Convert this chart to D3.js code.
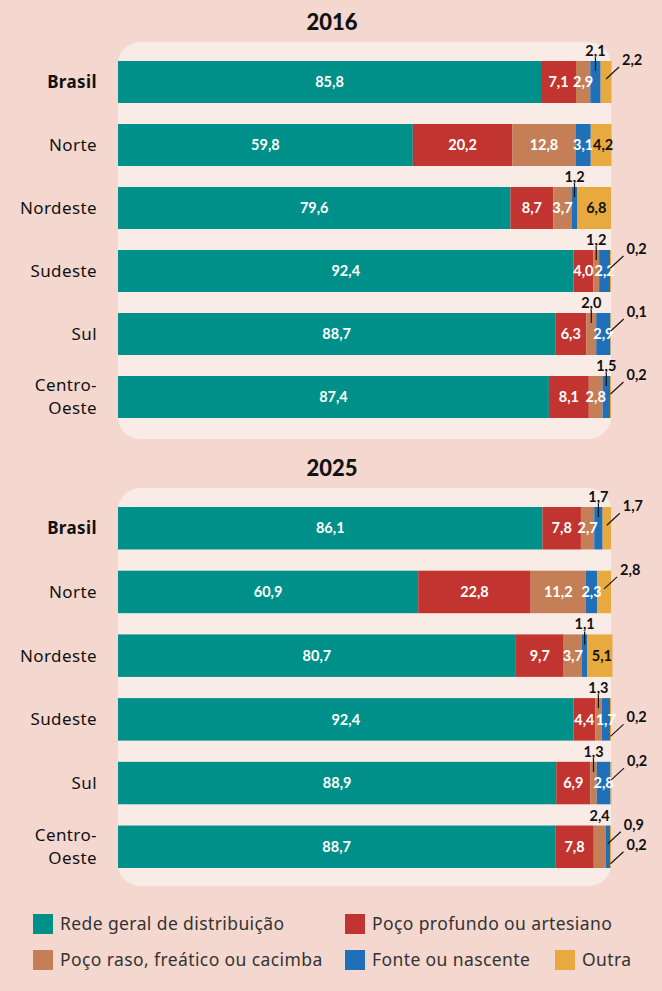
<!DOCTYPE html>
<html>
<head>
<meta charset="utf-8">
<script src="https://cdn.jsdelivr.net/npm/d3@7"></script>
<style>
  html, body { margin: 0; padding: 0; background: #f4d8cf; }
  svg { display: block; font-family: "Noto Sans", Lato, sans-serif; }
</style>
</head>
<body>
<svg id="chart"></svg>
<script>
const regions = ["Brasil", "Norte", "Nordeste", "Sudeste", "Sul", "Centro-Oeste"];
const sources = [
  "Rede geral de distribuição",
  "Poço profundo ou artesiano",
  "Poço raso, freático ou cacimba",
  "Fonte ou nascente",
  "Outra"
];
const years = ["2016", "2025"];

// one row per region, one column per source (%)
const values2016 = [
  [85.8, 7.1, 2.9, 2.1, 2.2],
  [59.8, 20.2, 12.8, 3.1, 4.2],
  [79.6, 8.7, 3.7, 1.2, 6.8],
  [92.4, 4.0, 1.2, 2.2, 0.2],
  [88.7, 6.3, 2.0, 2.9, 0.1],
  [87.4, 8.1, 2.8, 1.5, 0.2]
];
const values2025 = [
  [86.1, 7.8, 2.7, 1.7, 1.7],
  [60.9, 22.8, 11.2, 2.3, 2.8],
  [80.7, 9.7, 3.7, 1.1, 5.1],
  [92.4, 4.4, 1.3, 1.7, 0.2],
  [88.9, 6.9, 1.3, 2.8, 0.2],
  [88.7, 7.8, 2.4, 0.9, 0.2]
];

// where each value label goes (annotation layout only)
const placement = {
  "2016": [
    ["in", "in", "in", "top", "right"],
    ["in", "in", "in", "in", "inDark"],
    ["in", "in", "in", "top", "inDark"],
    ["in", "in", "top", "in", "right"],
    ["in", "in", "top", "in", "right"],
    ["in", "in", "in", "top", "right"]
  ],
  "2025": [
    ["in", "in", "in", "top", "right"],
    ["in", "in", "in", "in", "right"],
    ["in", "in", "in", "top", "inDark"],
    ["in", "in", "top", "in", "rightLow"],
    ["in", "in", "top", "in", "right"],
    ["in", "in", "topPlain", "right", "rightLow"]
  ]
};

const width = 662, height = 991;
const svg = d3.select("#chart").attr("width", width).attr("height", height);

svg.append("rect").attr("width", width).attr("height", height).attr("fill", "#f4d8cf");

const color = d3.scaleOrdinal()
  .domain(sources)
  .range(["#00908a", "#c1342f", "#c47f57", "#1f70b8", "#e8a93e"]);

const x = d3.scaleLinear().domain([0, 100]).range([118, 611]);
const fmt = (v) => d3.format(".1f")(v).replace(".", ",");

const panels = [
  { year: "2016", values: values2016, top: 42, bottom: 439, range: [61, 418] },
  { year: "2025", values: values2025, top: 488, bottom: 886, range: [507, 868] }
];

panels.forEach((p) => {
  const y = d3.scaleBand().domain(regions).range(p.range).paddingInner(1 / 3);
  const g = svg.append("g");

  g.append("text")
    .attr("x", 332)
    .attr("y", p.top - 12)
    .attr("text-anchor", "middle")
    .style("font-family", "Lato, sans-serif")
    .style("font-size", "22px")
    .style("font-weight", "900")
    .attr("fill", "#111")
    .text(p.year);

  g.append("rect")
    .attr("x", x(0))
    .attr("y", p.top)
    .attr("width", x(100) - x(0))
    .attr("height", p.bottom - p.top)
    .attr("rx", 22)
    .attr("fill", "#f9ebe6");

  // stack the row values into segments
  const rows = regions.map((r, i) => {
    let acc = 0;
    return p.values[i].map((v, j) => {
      const seg = { region: r, ri: i, source: sources[j], sj: j, v: v, x0: acc, x1: acc + v };
      acc += v;
      return seg;
    });
  });
  const segs = rows.flat();

  g.append("g")
    .selectAll("rect")
    .data(segs)
    .join("rect")
    .attr("x", (d) => x(d.x0))
    .attr("y", (d) => y(d.region))
    .attr("width", (d) => x(d.x1) - x(d.x0))
    .attr("height", y.bandwidth())
    .attr("fill", (d) => color(d.source));

  // region names, "Centro-Oeste" split over two lines
  const nameLines = regions.flatMap((r) => {
    const parts = r === "Centro-Oeste" ? ["Centro-", "Oeste"] : [r];
    return parts.map((t, k) => ({
      region: r,
      text: t,
      off: parts.length === 1 ? 0 : (k === 0 ? -12 : 11)
    }));
  });
  g.append("g")
    .selectAll("text")
    .data(nameLines)
    .join("text")
    .attr("x", 97)
    .attr("y", (d) => y(d.region) + y.bandwidth() / 2 + d.off)
    .attr("dy", "0.35em")
    .attr("text-anchor", "end")
    .attr("fill", "#111")
    .style("font-size", "17px")
    .style("letter-spacing", "0.4px")
    .style("font-weight", (d) => (d.region === "Brasil" ? "bold" : "normal"))
    .text((d) => d.text);

  // value labels
  const lab = g.append("g").style("font-family", "Lato, sans-serif");
  segs.forEach((d) => {
    const mode = placement[p.year][d.ri][d.sj];
    const xm = (x(d.x0) + x(d.x1)) / 2;
    const top = y(d.region);
    const mid = top + y.bandwidth() / 2;
    const t = lab.append("text")
      .style("font-size", "14.5px")
      .style("font-weight", "bold")
      .text(fmt(d.v));

    if (mode === "in" || mode === "inDark") {
      t.attr("x", mode === "inDark" ? xm + 2 : xm).attr("y", mid).attr("dy", "0.36em")
        .attr("text-anchor", "middle")
        .attr("fill", mode === "in" ? "#fff" : "#111");
    } else if (mode === "top" || mode === "topPlain") {
      if (mode === "top") {
        lab.append("line")
          .attr("x1", xm).attr("x2", xm)
          .attr("y1", top - 3).attr("y2", top + 10)
          .attr("stroke", "#111").attr("stroke-width", 1.2);
      }
      t.attr("x", xm).attr("y", top - 5)
        .attr("text-anchor", "middle").attr("fill", "#111");
    } else {
      const low = mode === "rightLow";
      const ys = low ? mid + 17 : mid - 3;
      const ye = low ? mid + 5 : mid - 15;
      lab.append("line")
        .attr("x1", xm).attr("y1", ys)
        .attr("x2", xm + 13).attr("y2", ye)
        .attr("stroke", "#111").attr("stroke-width", 1.1);
      t.attr("x", xm + 16).attr("y", ye - 2)
        .attr("text-anchor", "start").attr("fill", "#111");
    }
  });
});

// legend
const legendItems = [
  { name: sources[0], x: 33, y: 914 },
  { name: sources[1], x: 345, y: 914 },
  { name: sources[2], x: 33, y: 950 },
  { name: sources[3], x: 345, y: 950 },
  { name: sources[4], x: 555, y: 950 }
];
const leg = svg.append("g")
  .selectAll("g")
  .data(legendItems)
  .join("g")
  .attr("transform", (d) => `translate(${d.x},${d.y})`);
leg.append("rect").attr("width", 20).attr("height", 20).attr("fill", (d) => color(d.name));
leg.append("text")
  .attr("x", 27)
  .attr("y", 10)
  .attr("dy", "0.35em")
  .attr("fill", "#333")
  .style("font-size", "17.5px")
  .style("letter-spacing", "0.4px")
  .text((d) => d.name);
</script>
</body>
</html>
